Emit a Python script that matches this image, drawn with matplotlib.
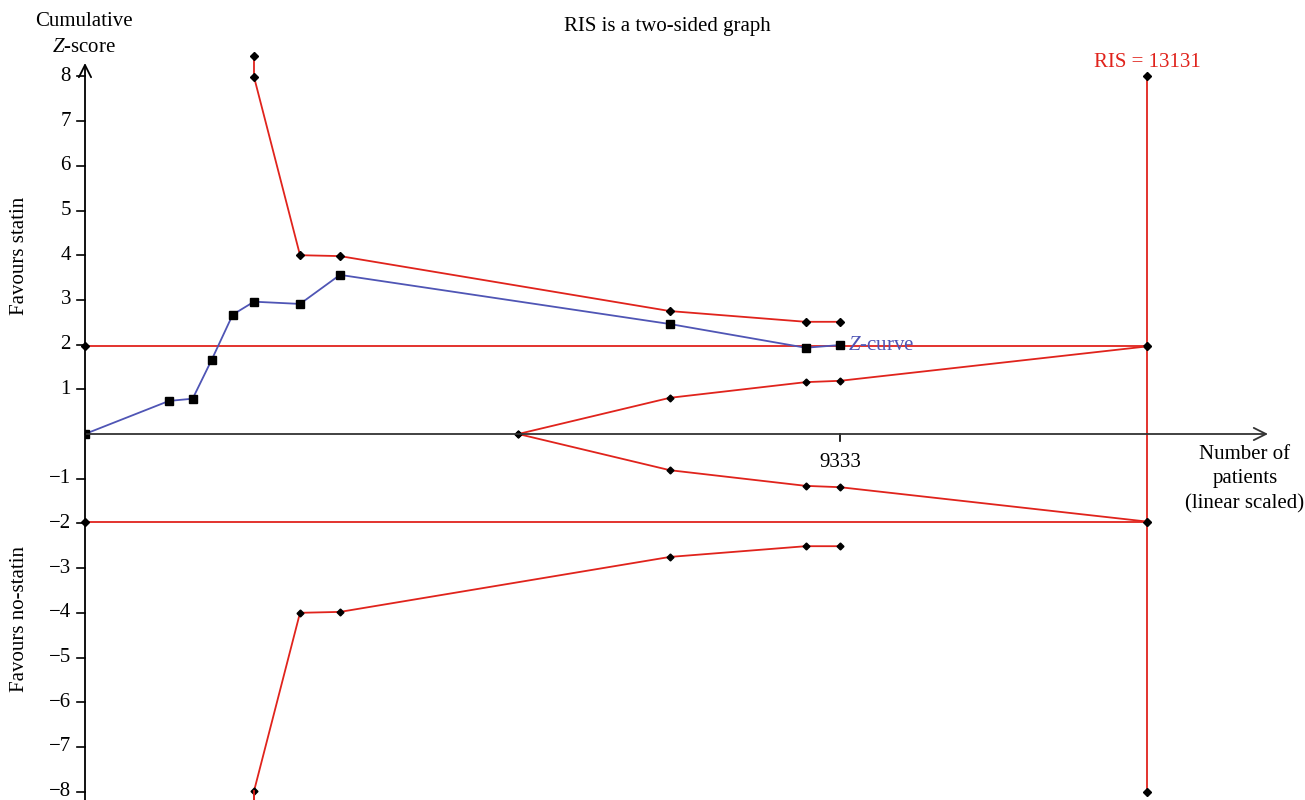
import matplotlib.pyplot as plt
import numpy as np

plt.rcParams['font.family'] = ['Liberation Serif', 'DejaVu Serif']
plt.rcParams['mathtext.fontset'] = 'custom'
plt.rcParams['mathtext.rm'] = 'Liberation Serif'
plt.rcParams['mathtext.it'] = 'Liberation Serif:italic'

RED = '#e0231c'
BLUE = '#4f55b5'

# cumulative number of patients at each analysis
n_patients = [0, 1038, 1331, 1566, 1826, 2089, 2658, 3152, 7231, 8909, 9333]
z_curve = [0, 0.74, 0.79, 1.66, 2.67, 2.96, 2.91, 3.56, 2.46, 1.93, 1.99]

# monitoring boundaries (truncated at 8)
bound_n = [2089, 2089, 2658, 3152, 7231, 8909, 9333]
bound_upper = [8.46, 7.99, 4.00, 3.98, 2.75, 2.51, 2.51]

# futility (inner wedge)
fut_n = [5356, 7231, 8909, 9333, 13131]
fut_upper = [0, 0.81, 1.16, 1.19, 1.96]

ris = 13131
z_conv = 1.96
yticks = [-8, -7, -6, -5, -4, -3, -2, -1, 1, 2, 3, 4, 5, 6, 7, 8]

fig = plt.figure(figsize=(13.05, 8), dpi=100)
ax = fig.add_axes([85 / 1305, 0, (1285 - 85) / 1305, 750 / 800])
x_per_px = 9333 / (840 - 85)
ax.set_xlim(0, (1285 - 85) * x_per_px)
ax.set_ylim((434 - 800) / 44.7, (434 - 50) / 44.7)
ax.axis('off')

# axes with arrows
xend = (1268 - 85) * x_per_px
ax.annotate('', xy=(xend, 0), xytext=(0, 0),
            arrowprops=dict(arrowstyle='->', color='#333333', lw=1.3, mutation_scale=22,
                            shrinkA=0, shrinkB=0))
ax.annotate('', xy=(0, (434 - 63) / 44.7), xytext=(0, -8.4),
            arrowprops=dict(arrowstyle='->', color='black', lw=1.3, mutation_scale=22,
                            shrinkA=0, shrinkB=0))

tick_len = 8 * x_per_px
for t in yticks:
    ax.plot([-tick_len, 0], [t, t], color='black', lw=1.2, clip_on=False)
    ax.text(-14 * x_per_px, t, '\u2212%d' % -t if t < 0 else str(t), ha='right', va='center',
            fontsize=15)
ax.plot([9333, 9333], [0, -7 / 44.7], color='black', lw=1.2)
ax.text(9333, -28 / 44.7, '9333', ha='center', va='center', fontsize=15)

# conventional boundaries
ax.plot([0, ris], [z_conv, z_conv], color=RED, lw=1.3)
ax.plot([0, ris], [-z_conv, -z_conv], color=RED, lw=1.3)
ax.plot([0, 0], [z_conv, -z_conv], 'D', color='black', ms=4, ls='none', clip_on=False)

# RIS vertical line
ax.plot([ris, ris], [-8, 8], color=RED, lw=1.3)
ax.plot([ris] * 4, [8, z_conv, -z_conv, -8], 'D', color='black', ms=4, ls='none')

# monitoring boundaries
ax.plot(bound_n, bound_upper, color=RED, lw=1.3, marker='D', ms=4.5, mfc='black', mec='black')
ax.plot(bound_n, [-v for v in bound_upper], color=RED, lw=1.3, marker='D', ms=3.5,
        mfc='black', mec='black')
ax.plot([2089, 2089], [-7.99, -9], color=RED, lw=1.3)

# futility wedge
ax.plot(fut_n, fut_upper, color=RED, lw=1.3, marker='D', ms=3.5, mfc='black', mec='black')
ax.plot(fut_n, [-v for v in fut_upper], color=RED, lw=1.3, marker='D', ms=3.5,
        mfc='black', mec='black')

# Z-curve
ax.plot(n_patients, z_curve, color=BLUE, lw=1.3, marker='s', ms=6, mfc='black', mec='black')
ax.text(9333 + 100, z_curve[-1], '$\\mathit{Z}$-curve', color=BLUE, fontsize=15, va='center',
        ha='left')

# labels
ax.text(ris, (434 - 62) / 44.7, 'RIS = 13131', color=RED, fontsize=15, ha='center', va='center')
fig.text(667 / 1305, 1 - 27 / 800, 'RIS is a two-sided graph', fontsize=15, ha='center', va='center')
fig.text(84 / 1305, 1 - 21 / 800, 'Cumulative', fontsize=15, ha='center', va='center')
fig.text(84 / 1305, 1 - 47 / 800, '$\\mathit{Z}$-score', fontsize=15, ha='center', va='center')
fig.text(20 / 1305, 1 - 256 / 800, 'Favours statin', fontsize=15, rotation=90,
         ha='center', va='center')
fig.text(20 / 1305, 1 - 619 / 800, 'Favours no-statin', fontsize=15, rotation=90,
         ha='center', va='center')
fig.text(1245 / 1305, 1 - 479 / 800, 'Number of\npatients\n(linear scaled)', fontsize=15,
         ha='center', va='center', linespacing=1.4)

fig.savefig('out.png', dpi=100)
